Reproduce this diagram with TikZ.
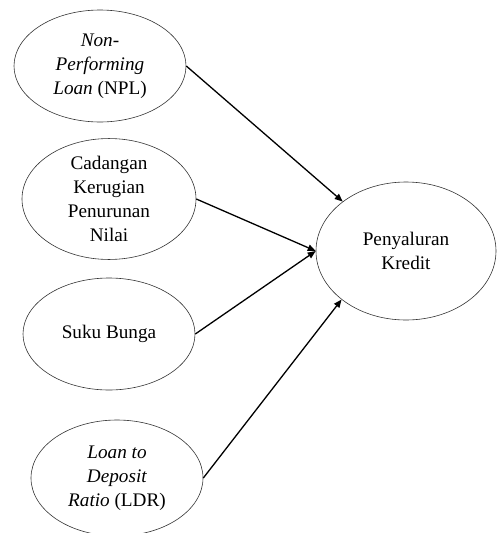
\documentclass[tikz,border=0pt]{standalone}
\usepackage{fontspec}
\setmainfont{Liberation Serif}
\usetikzlibrary{shapes.geometric,arrows.meta}
\begin{document}
\begin{tikzpicture}[x=1pt,y=-1pt,
  oval/.style={ellipse,draw=black!80,line width=0.6pt,inner sep=0pt,align=center,
    font=\fontsize{19.2}{24}\selectfont},
  conn/.style={line width=1.3pt,-{Triangle[length=8pt,width=6.5pt]}}]
\useasboundingbox (0,0) rectangle (497,533);
\node[oval,minimum width=172pt,minimum height=112pt] (npl) at (100,66)
  {\textit{Non-}\\\textit{Performing}\\\textit{Loan} (NPL)};
\node[oval,minimum width=174pt,minimum height=114pt] (ckpn) at (109,199)
  {Cadangan\\Kerugian\\Penurunan\\Nilai};
\node[oval,minimum width=172pt,minimum height=112pt] (sb) at (109,334)
  {Suku Bunga};
\node[oval,minimum width=172pt,minimum height=116pt] (ldr) at (117,478)
  {\textit{Loan to}\\\textit{Deposit}\\\textit{Ratio} (LDR)};
\node[oval,minimum width=180pt,minimum height=138pt] (pk) at (406,251)
  {Penyaluran\\Kredit};
\draw[conn] (npl.east) -- (pk.142.7);
\draw[conn] (ckpn.east) -- (pk.west);
\draw[conn] (sb.east) -- (pk.west);
\draw[conn] (ldr.east) -- (pk.217);
\end{tikzpicture}
\end{document}
